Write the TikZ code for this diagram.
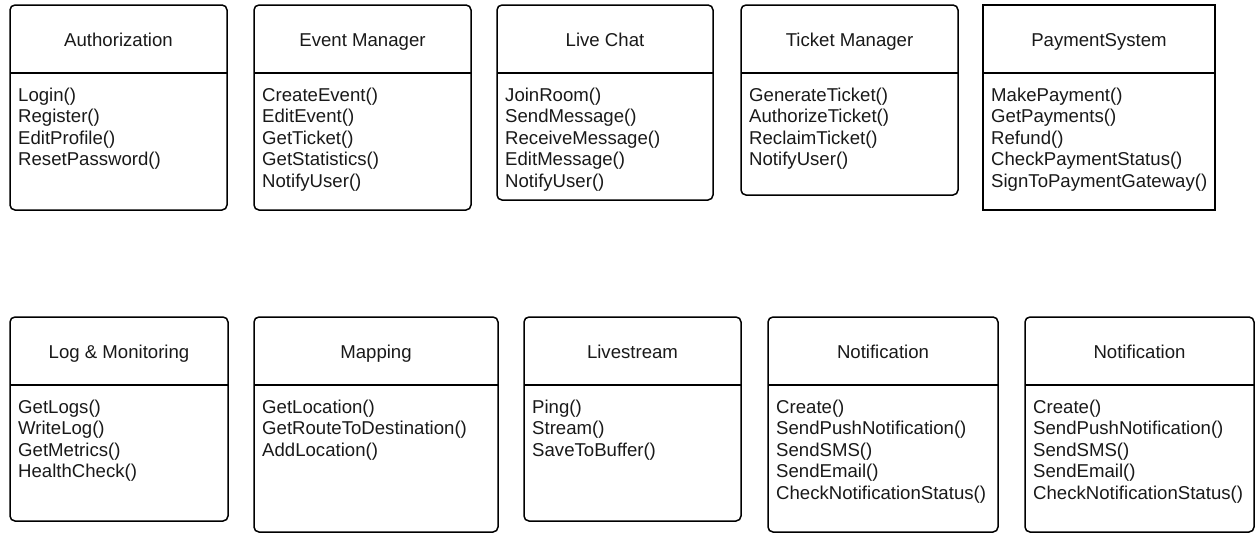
\documentclass[tikz,border=0pt]{standalone}
\usepackage{fontspec}
\setmainfont{Liberation Sans}
\usetikzlibrary{fit}

\tikzset{
  x=1pt, y=-1pt,
  classbox/.style={draw=black, line width=1.5pt, inner sep=0pt, rounded corners=5pt},
  squarebox/.style={rounded corners=0pt},
  divider/.style={draw=black, line width=1.5pt},
  classtitle/.style={anchor=base, inner sep=0pt, text=black!90, font=\fontsize{18.6}{21.6}\selectfont},
  method/.style={anchor=base west, inner sep=0pt, text=black!90, font=\fontsize{18.6}{21.6}\selectfont},
}

% #1 name, #2 left, #3 top, #4 right, #5 bottom, #6 extra box style, #7 class title, #8 operations
\newcommand\umlclass[8]{%
  \node[classbox,#6,fit={(#2,#3) (#4,#5)}] (#1) {};
  \coordinate (#1-dl) at (#2,{#3+68});
  \coordinate (#1-dr) at (#4,{#3+68});
  \draw[divider] (#1-dl) -- (#1-dr);
  \node[classtitle] (#1-title) at ({(#2+#4)/2},{#3+41.5}) {#7};
  \foreach \m [count=\i] in {#8} {%
    \node[method] (#1-m\i) at ({#2+8},{#3+96+(\i-1)*21.6}) {\m};
  }%
}

\begin{document}
\begin{tikzpicture}
\useasboundingbox (0,0) rectangle (1255,533);

% top row
\umlclass{auth}{10}{5}{227}{210}{}{Authorization}
  {Login(), Register(), EditProfile(), ResetPassword()}
\umlclass{event}{254}{5}{471}{210}{}{Event Manager}
  {CreateEvent(), EditEvent(), GetTicket(), GetStatistics(), NotifyUser()}
\umlclass{chat}{497}{5}{713}{200}{}{Live Chat}
  {JoinRoom(), SendMessage(), ReceiveMessage(), EditMessage(), NotifyUser()}
\umlclass{ticket}{741}{5}{958}{195}{}{Ticket Manager}
  {GenerateTicket(), AuthorizeTicket(), ReclaimTicket(), NotifyUser()}
\umlclass{pay}{983}{5}{1215}{210}{squarebox}{PaymentSystem}
  {MakePayment(), GetPayments(), Refund(), CheckPaymentStatus(), SignToPaymentGateway()}

% bottom row
\umlclass{log}{10}{317}{228}{521}{}{Log \& Monitoring}
  {GetLogs(), WriteLog(), GetMetrics(), HealthCheck()}
\umlclass{map}{254}{317}{498}{532}{}{Mapping}
  {GetLocation(), GetRouteToDestination(), AddLocation()}
\umlclass{live}{524}{317}{741}{521}{}{Livestream}
  {Ping(), Stream(), SaveToBuffer()}
\umlclass{notifa}{768}{317}{998}{532}{}{Notification}
  {Create(), SendPushNotification(), SendSMS(), SendEmail(), CheckNotificationStatus()}
\umlclass{notifb}{1025}{317}{1254}{532}{}{Notification}
  {Create(), SendPushNotification(), SendSMS(), SendEmail(), CheckNotificationStatus()}
\end{tikzpicture}
\end{document}
